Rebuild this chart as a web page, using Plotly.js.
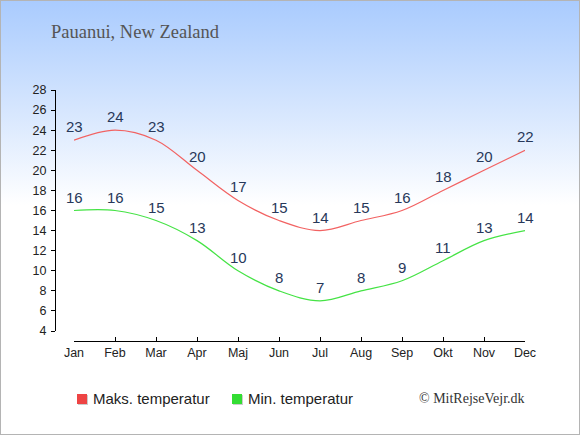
<!DOCTYPE html>
<html>
<head>
<meta charset="utf-8">
<script src="https://cdn.plot.ly/plotly-3.0.1.min.js"></script>
<style>
  html, body { margin: 0; padding: 0; background: #fff; }
  #chart {
    width: 580px; height: 435px;
    background: linear-gradient(to bottom, #a9cbfe 0px, #d6e6fe 110px, #ffffff 205px, #ffffff 435px);
  }
</style>
</head>
<body>
<div id="chart"></div>
<script>
const months = ["Jan","Feb","Mar","Apr","Maj","Jun","Jul","Aug","Sep","Okt","Nov","Dec"];
const maxTemp = [23,24,23,20,17,15,14,15,16,18,20,22];
const minTemp = [16,16,15,13,10,8,7,8,9,11,13,14];
const yTicks = [4,6,8,10,12,14,16,18,20,22,24,26,28];
const titleText = "Pauanui, New Zealand";
const legendMax = "Maks. temperatur";
const legendMin = "Min. temperatur";
const credit = "© MitRejseVejr.dk";

const W = 580, H = 435;
const px = v => v / W;
const py = v => (H - v) / H;

const idx = months.map((m, i) => i);

const traces = [
  { x: idx, y: maxTemp, type: "scatter", mode: "lines",
    line: { color: "#f26262", width: 1.2, shape: "spline", smoothing: 1 },
    hoverinfo: "skip", showlegend: false },
  { x: idx, y: minTemp, type: "scatter", mode: "lines",
    line: { color: "#45e345", width: 1.2, shape: "spline", smoothing: 1 },
    hoverinfo: "skip", showlegend: false }
];

const labelFont = { family: "Liberation Sans, Arial, sans-serif", size: 15, color: "#27385a" };
const annotations = [];
idx.forEach(i => {
  annotations.push({ x: i, y: maxTemp[i], xref: "x", yref: "y", text: String(maxTemp[i]),
    showarrow: false, yanchor: "middle", yshift: 13.5, font: labelFont });
  annotations.push({ x: i, y: minTemp[i], xref: "x", yref: "y", text: String(minTemp[i]),
    showarrow: false, yanchor: "middle", yshift: 13.5, font: labelFont });
});

const legFont = { family: "Liberation Sans, Arial, sans-serif", size: 15, color: "#222" };
annotations.push({ xref: "paper", yref: "paper", x: px(91), y: py(398.5), xanchor: "left", yanchor: "middle",
  text: legendMax, showarrow: false, font: legFont });
annotations.push({ xref: "paper", yref: "paper", x: px(246), y: py(398.5), xanchor: "left", yanchor: "middle",
  text: legendMin, showarrow: false, font: legFont });
annotations.push({ xref: "paper", yref: "paper", x: px(527), y: py(398), xanchor: "right", yanchor: "middle",
  text: credit, showarrow: false, font: { family: "Liberation Serif, Times New Roman, serif", size: 14, color: "#333" } });

const shapes = [
  { type: "rect", xref: "paper", yref: "paper", x0: px(78), x1: px(88), y0: py(405), y1: py(395),
    line: { width: 0 }, fillcolor: "#cccccc" },
  { type: "rect", xref: "paper", yref: "paper", x0: px(77), x1: px(87), y0: py(404), y1: py(394),
    line: { width: 0 }, fillcolor: "#ee4444" },
  { type: "rect", xref: "paper", yref: "paper", x0: px(233), x1: px(243), y0: py(405), y1: py(395),
    line: { width: 0 }, fillcolor: "#cccccc" },
  { type: "rect", xref: "paper", yref: "paper", x0: px(232), x1: px(242), y0: py(404), y1: py(394),
    line: { width: 0 }, fillcolor: "#33dd33" },
  { type: "rect", xref: "paper", yref: "paper", x0: 0, x1: 1, y0: 0, y1: 1,
    line: { color: "#b4b4b4", width: 2 }, fillcolor: "rgba(0,0,0,0)" }
];

const tickFont = { family: "Liberation Sans, Arial, sans-serif", size: 12.5, color: "#222" };

const layout = {
  width: W, height: H,
  margin: { l: 0, r: 0, t: 0, b: 0, pad: 0 },
  paper_bgcolor: "rgba(0,0,0,0)",
  plot_bgcolor: "rgba(0,0,0,0)",
  showlegend: false,
  title: { text: titleText, xref: "paper", yref: "paper", x: px(51), xanchor: "left",
    y: py(32), yanchor: "middle",
    font: { family: "Liberation Serif, Times New Roman, serif", size: 18.5, color: "#555" } },
  xaxis: {
    domain: [px(74), px(525)], range: [0, 11], anchor: "free", position: py(341),
    tickmode: "array", tickvals: idx, ticktext: months,
    showline: true, linecolor: "#000", linewidth: 1,
    ticks: "inside", ticklen: 4, tickcolor: "#000", tickwidth: 1,
    showgrid: false, zeroline: false, tickfont: tickFont, fixedrange: true
  },
  yaxis: {
    domain: [py(331), py(90)], range: [4, 28], anchor: "free", position: px(55),
    tickmode: "array", tickvals: yTicks,
    showline: true, linecolor: "#000", linewidth: 1,
    ticks: "outside", ticklen: 4, tickcolor: "#000", tickwidth: 1, ticklabelstandoff: 2,
    showgrid: false, zeroline: false, tickfont: tickFont, fixedrange: true
  },
  annotations: annotations,
  shapes: shapes
};

Plotly.newPlot("chart", traces, layout, { displayModeBar: false, staticPlot: true });
</script>
</body>
</html>
